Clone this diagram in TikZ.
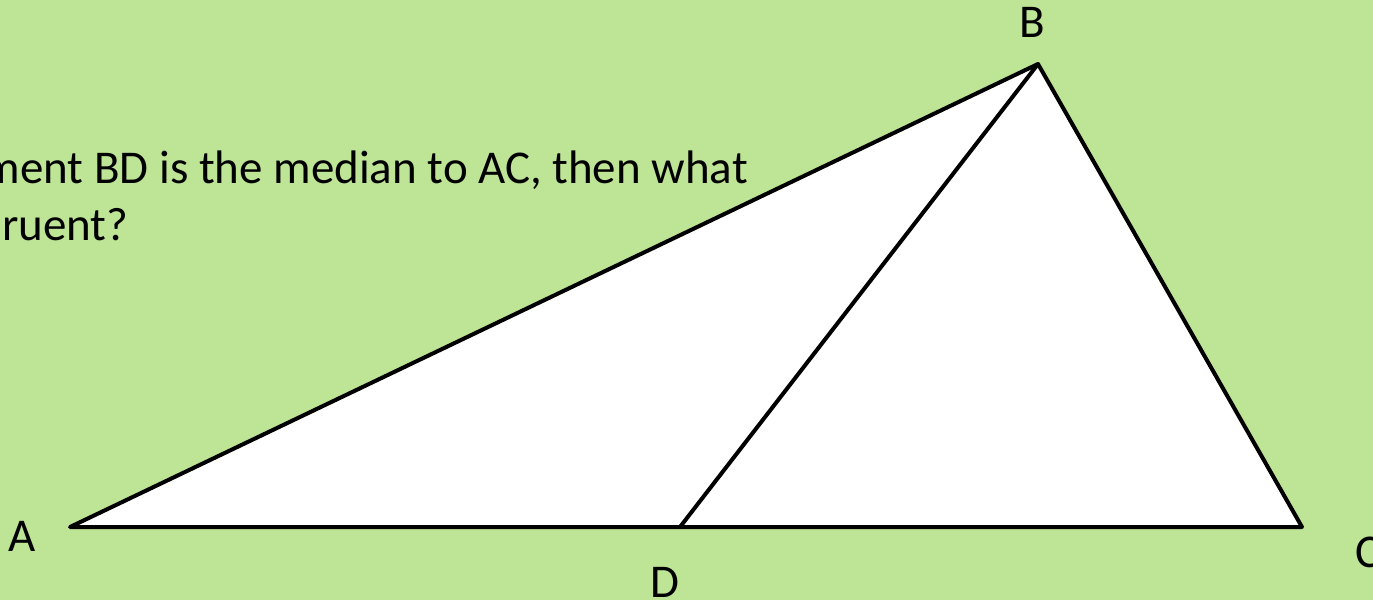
\documentclass[tikz,border=0pt]{standalone}
\usepackage{fontspec}
\setmainfont{Carlito}
\definecolor{bggreen}{RGB}{190,228,150}
\begin{document}
\begin{tikzpicture}[x=1pt,y=-1pt,
  lbl/.style={inner sep=0pt,font=\fontsize{47}{56}\selectfont},
  edge/.style={line width=4pt,line join=round,line cap=round}]
\useasboundingbox (0,0) rectangle (1373,600);
\clip (0,0) rectangle (1373,600);
\fill[bggreen] (0,0) rectangle (1373,600);
\coordinate (A) at (70,527);
\coordinate (B) at (1038,64);
\coordinate (C) at (1302,527);
\coordinate (D) at (680,527);
\fill[white] (A) -- (B) -- (C) -- cycle;
\draw[edge] (A) -- (B) -- (C) -- cycle;
\draw[edge] (B) -- (D);
\node[lbl,anchor=base east] (t1) at (748,183) {ment BD is the median to AC, then what};
\node[lbl,anchor=base west] (t2) at (2,240) {ruent?};
\node[lbl,anchor=base] (lA) at (22,551) {A};
\node[lbl,anchor=base] (lB) at (1032,37) {B};
\node[lbl,anchor=base west] (lC) at (1355,567) {C};
\node[lbl,anchor=base] (lD) at (665,597) {D};
\end{tikzpicture}
\end{document}
